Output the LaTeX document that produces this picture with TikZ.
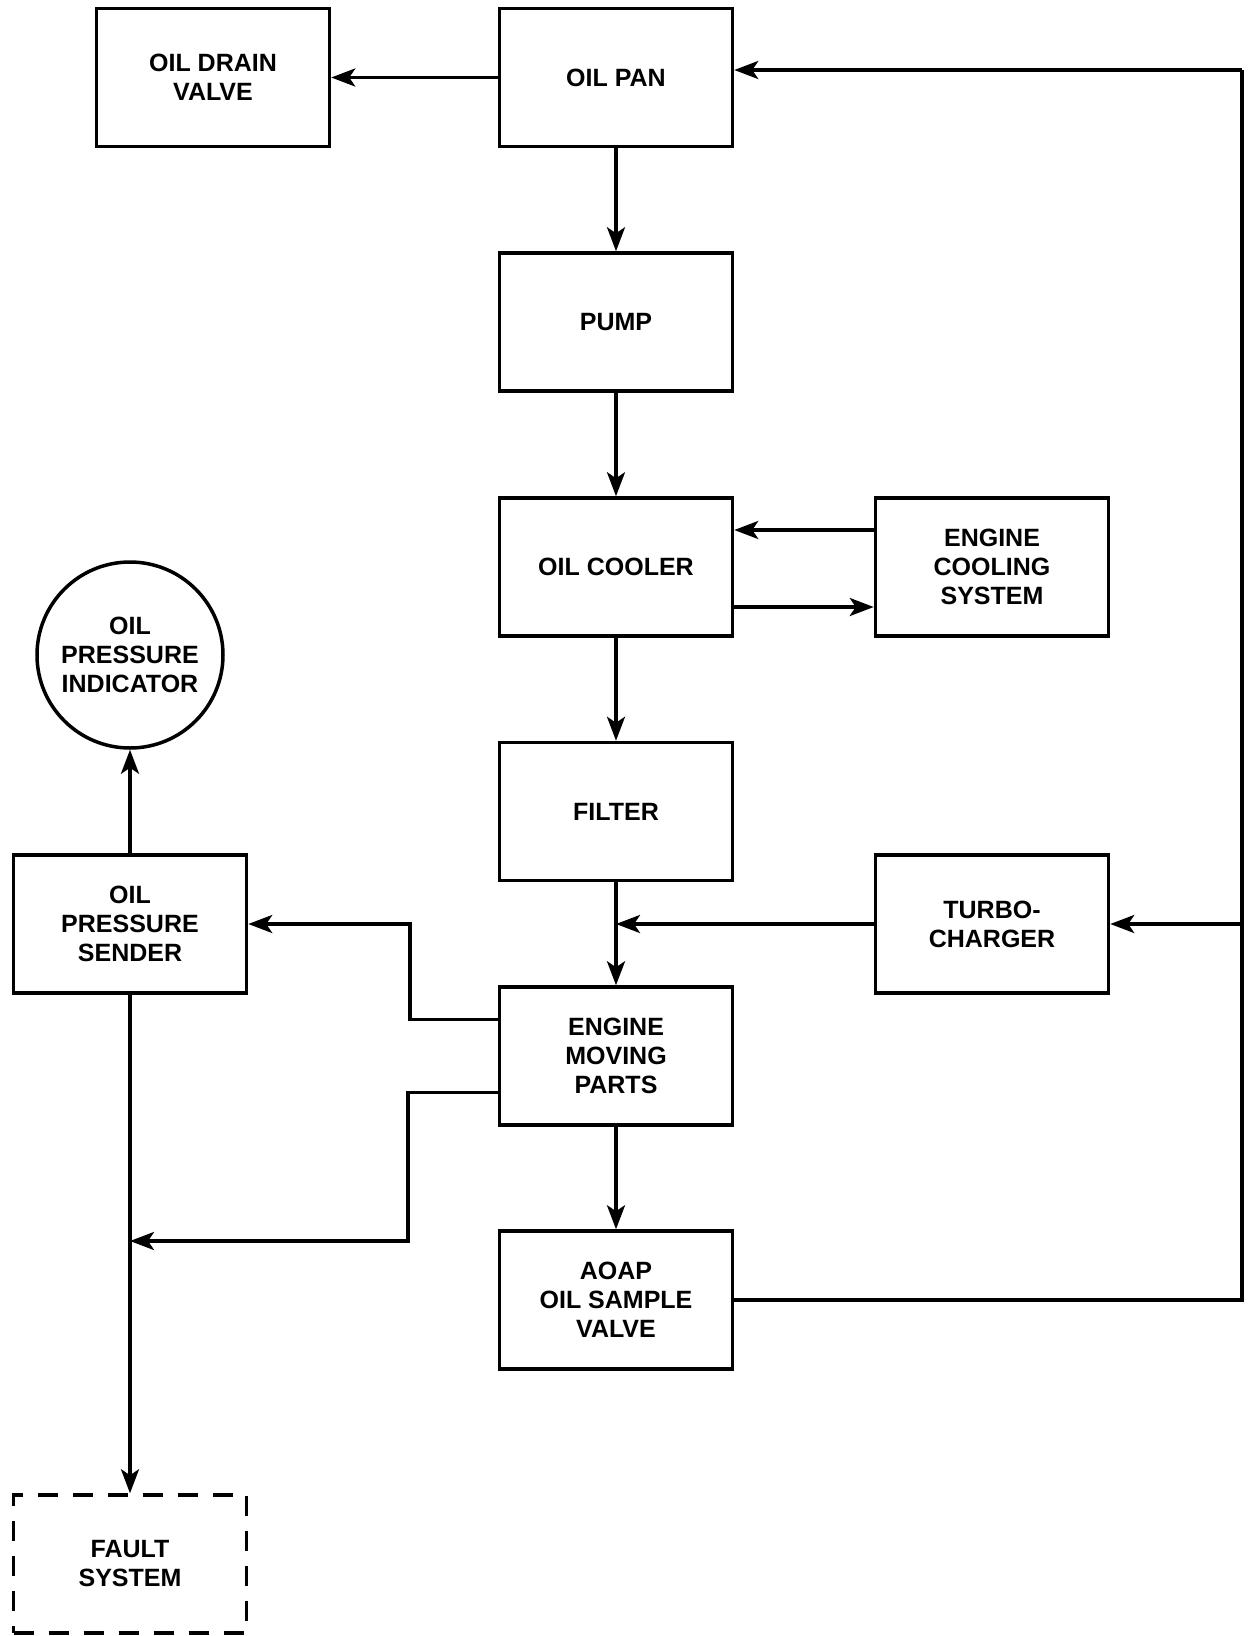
\documentclass[tikz,border=0pt]{standalone}
\usepackage{fontspec}
\setmainfont{Liberation Sans}
\usetikzlibrary{arrows.meta}

\begin{document}
\begin{tikzpicture}[x=1pt, y=-1pt]
\tikzstyle{block}=[rectangle, draw=black, line width=3.5pt, minimum width=233pt, minimum height=138pt, align=center, font=\fontsize{25}{29}\selectfont\bfseries]
\tikzstyle{dial}=[block, circle, minimum size=186pt, inner sep=0pt]
\tikzstyle{fault block}=[block, dash pattern=on 20pt off 15pt]
\tikzstyle{flow}=[-{Stealth[length=24pt, width=18pt, inset=6pt]}, line width=3.5pt]
\tikzstyle{pipe}=[line width=3.5pt]

\useasboundingbox (0,0) rectangle (1248,1636);

% Main oil circuit
\node[block] (drain) at (213, 77.5) {OIL DRAIN\\VALVE};
\node[block] (pan) at (616, 77.5) {OIL PAN};
\node[block] (pump) at (616, 322) {PUMP};
\node[block] (cooler) at (616, 567) {OIL COOLER};
\node[block] (cooling) at (992, 567) {ENGINE\\COOLING\\SYSTEM};
\node[block] (filter) at (616, 811.5) {FILTER};
\node[block] (turbo) at (992, 924) {TURBO-\\CHARGER};
\node[block] (parts) at (616, 1056) {ENGINE\\MOVING\\PARTS};
\node[block] (sample) at (616, 1300) {AOAP\\OIL SAMPLE\\VALVE};

% Pressure sensing
\node[dial] (indicator) at (130, 655) {OIL\\PRESSURE\\INDICATOR};
\node[block] (sender) at (130, 924) {OIL\\PRESSURE\\SENDER};
\node[fault block] (fault) at (130, 1564) {FAULT\\SYSTEM};

\coordinate (return top) at (1242, 70);
\coordinate (return turbo) at (1242, 924);
\coordinate (tap high) at (410, 1019.5);
\coordinate (tap low) at (408, 1092.5);
\coordinate (fault tee) at (130, 1241);

\draw[flow] (pan.west |- drain.east) -- (drain.east);
\draw[flow] (pan) -- (pump);
\draw[flow] (pump) -- (cooler);
\draw[flow] ([yshift=37pt]cooling.west) -- ([yshift=37pt]cooler.east);
\draw[flow] ([yshift=-40pt]cooler.east) -- ([yshift=-40pt]cooling.west);
\draw[flow] (cooler) -- (filter);
\draw[flow] (filter) -- (parts);
\draw[flow] (turbo.west) -- (filter.south |- turbo.west);
\draw[flow] (parts) -- (sample);

\draw[pipe] (sample.east) -| (return top);
\draw[flow] (return top) -- (pan.east |- return top);
\draw[flow] (return turbo) -- (turbo.east);

\draw[flow] (parts.west |- tap high) -- (tap high) |- (sender.east);
\draw[flow] (parts.west |- tap low) -- (tap low) |- (fault tee);
\draw[flow] (sender) -- (indicator);
\draw[flow] (sender) -- (fault);
\end{tikzpicture}
\end{document}
